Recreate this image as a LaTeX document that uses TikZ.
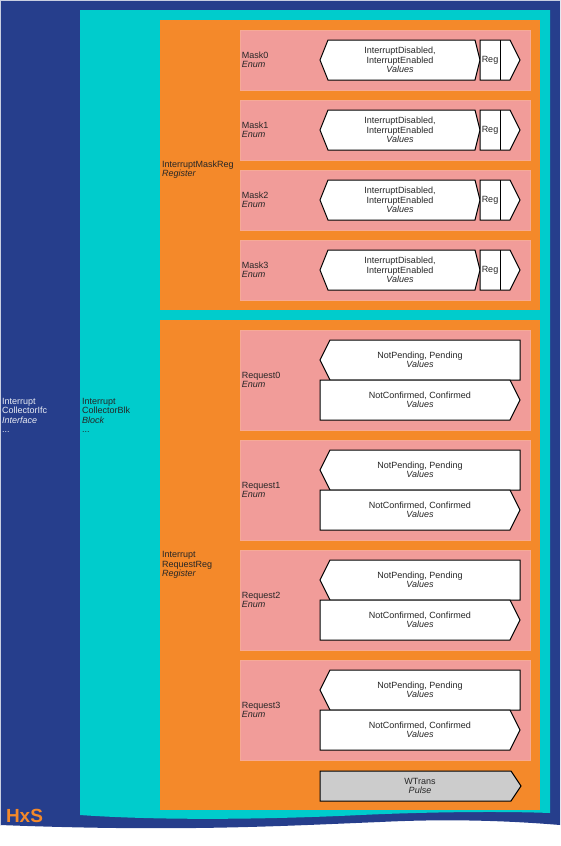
\documentclass[tikz,border=0pt]{standalone}
\usepackage{fontspec}
\setmainfont{Liberation Sans}
\usetikzlibrary{positioning}

\definecolor{ifcblue}{RGB}{38,62,140}
\definecolor{blkcyan}{RGB}{0,204,204}
\definecolor{regorange}{RGB}{244,137,42}
\definecolor{fieldpink}{RGB}{241,156,153}
\definecolor{pinkedge}{RGB}{246,170,150}
\definecolor{pulsegray}{RGB}{204,204,204}

\tikzset{
    regbox/.style={fill=regorange, minimum width=380pt, inner sep=0pt},
    rowbox/.style={fill=fieldpink, draw=pinkedge, line width=0.8pt, minimum width=290pt, inner sep=0pt},
    lbl/.style={font=\fontsize{9}{9.3}\selectfont, text=black!85, align=left, inner sep=0pt},
    txt/.style={font=\fontsize{9}{9.3}\selectfont, text=black!85, align=center, inner sep=0pt},
    valbox/.style={draw=black, fill=white, line width=1pt},
}

\begin{document}
\begin{tikzpicture}[x=1pt, y=-1pt]
    \useasboundingbox (0,0) rectangle (561,846);

    % Interface and block
    \fill[ifcblue] (0,0) -- (560,0) -- (560,825) .. controls (500,820) and (440,819) .. (380,822)
        .. controls (280,826) and (180,832) .. (0,825) -- cycle;
    \draw[white!75!ifcblue, line width=0.6pt] (0.3,825) -- (0.3,0.3) -- (560,0.3);
    \fill[blkcyan] (80,10) -- (550,10) -- (550,813) .. controls (500,811) and (420,812) .. (350,815.5)
        .. controls (250,820) and (150,820) .. (80,815) -- cycle;

    \node[lbl, anchor=west, text=white!90!ifcblue] (ifc) at (2,415.5) {Interrupt\\CollectorIfc\\\textit{Interface}\\...};
    \node[lbl, anchor=west] (blk) at (82,415.5) {Interrupt\\CollectorBlk\\\textit{Block}\\...};
    \node[anchor=center, inner sep=0pt, text=regorange, font=\fontsize{19}{19}\selectfont\bfseries] (hxs) at (24.5,815.5) {HxS};

    % Registers
    \node[regbox, minimum height=290pt] (maskreg) at (350,165) {};
    \node[regbox, minimum height=490pt] (reqreg) at (350,565) {};
    \node[lbl, anchor=west] (maskreglbl) at (162,169.5) {InterruptMaskReg\\\textit{Register}};
    \node[lbl, anchor=west] (reqreglbl) at (162,565) {Interrupt\\RequestReg\\\textit{Register}};

    % Mask fields
    \node[rowbox, minimum height=60pt] (mask0) at (385,60) {};
    \node[rowbox, minimum height=60pt] (mask1) at (385,130) {};
    \node[rowbox, minimum height=60pt] (mask2) at (385,200) {};
    \node[rowbox, minimum height=60pt] (mask3) at (385,270) {};
    \node[lbl, anchor=west, right=2pt of mask0.west] (mask0lbl) {Mask0\\\textit{Enum}};
    \node[lbl, anchor=west, right=2pt of mask1.west] (mask1lbl) {Mask1\\\textit{Enum}};
    \node[lbl, anchor=west, right=2pt of mask2.west] (mask2lbl) {Mask2\\\textit{Enum}};
    \node[lbl, anchor=west, right=2pt of mask3.west] (mask3lbl) {Mask3\\\textit{Enum}};

    \filldraw[valbox] (320,60) -- (328,40) -- (475,40) -- (480,60) -- (475,80) -- (328,80) -- cycle;
    \filldraw[valbox] (480,40) -- (510,40) -- (520,60) -- (510,80) -- (480,80) -- cycle;
    \draw[valbox] (500,40) -- (500,80);
    \filldraw[valbox] (320,130) -- (328,110) -- (475,110) -- (480,130) -- (475,150) -- (328,150) -- cycle;
    \filldraw[valbox] (480,110) -- (510,110) -- (520,130) -- (510,150) -- (480,150) -- cycle;
    \draw[valbox] (500,110) -- (500,150);
    \filldraw[valbox] (320,200) -- (328,180) -- (475,180) -- (480,200) -- (475,220) -- (328,220) -- cycle;
    \filldraw[valbox] (480,180) -- (510,180) -- (520,200) -- (510,220) -- (480,220) -- cycle;
    \draw[valbox] (500,180) -- (500,220);
    \filldraw[valbox] (320,270) -- (328,250) -- (475,250) -- (480,270) -- (475,290) -- (328,290) -- cycle;
    \filldraw[valbox] (480,250) -- (510,250) -- (520,270) -- (510,290) -- (480,290) -- cycle;
    \draw[valbox] (500,250) -- (500,290);

    \node[txt] (mask0val) at (400,60) {InterruptDisabled,\\InterruptEnabled\\\textit{Values}};
    \node[txt] (mask1val) at (400,130) {InterruptDisabled,\\InterruptEnabled\\\textit{Values}};
    \node[txt] (mask2val) at (400,200) {InterruptDisabled,\\InterruptEnabled\\\textit{Values}};
    \node[txt] (mask3val) at (400,270) {InterruptDisabled,\\InterruptEnabled\\\textit{Values}};
    \node[txt] (mask0reg) at (490,60) {Reg};
    \node[txt] (mask1reg) at (490,130) {Reg};
    \node[txt] (mask2reg) at (490,200) {Reg};
    \node[txt] (mask3reg) at (490,270) {Reg};

    % Request fields
    \node[rowbox, minimum height=100pt] (req0) at (385,380) {};
    \node[rowbox, minimum height=100pt] (req1) at (385,490) {};
    \node[rowbox, minimum height=100pt] (req2) at (385,600) {};
    \node[rowbox, minimum height=100pt] (req3) at (385,710) {};
    \node[lbl, anchor=west, right=2pt of req0.west] (req0lbl) {Request0\\\textit{Enum}};
    \node[lbl, anchor=west, right=2pt of req1.west] (req1lbl) {Request1\\\textit{Enum}};
    \node[lbl, anchor=west, right=2pt of req2.west] (req2lbl) {Request2\\\textit{Enum}};
    \node[lbl, anchor=west, right=2pt of req3.west] (req3lbl) {Request3\\\textit{Enum}};

    \filldraw[valbox] (320,360) -- (330,340) -- (520,340) -- (520,380) -- (330,380) -- cycle;
    \filldraw[valbox] (320,380) -- (510,380) -- (520,400) -- (510,420) -- (320,420) -- cycle;
    \filldraw[valbox] (320,470) -- (330,450) -- (520,450) -- (520,490) -- (330,490) -- cycle;
    \filldraw[valbox] (320,490) -- (510,490) -- (520,510) -- (510,530) -- (320,530) -- cycle;
    \filldraw[valbox] (320,580) -- (330,560) -- (520,560) -- (520,600) -- (330,600) -- cycle;
    \filldraw[valbox] (320,600) -- (510,600) -- (520,620) -- (510,640) -- (320,640) -- cycle;
    \filldraw[valbox] (320,690) -- (330,670) -- (520,670) -- (520,710) -- (330,710) -- cycle;
    \filldraw[valbox] (320,710) -- (510,710) -- (520,730) -- (510,750) -- (320,750) -- cycle;

    \node[txt] (req0pend) at (420,360) {NotPending, Pending\\\textit{Values}};
    \node[txt] (req0conf) at (420,400) {NotConfirmed, Confirmed\\\textit{Values}};
    \node[txt] (req1pend) at (420,470) {NotPending, Pending\\\textit{Values}};
    \node[txt] (req1conf) at (420,510) {NotConfirmed, Confirmed\\\textit{Values}};
    \node[txt] (req2pend) at (420,580) {NotPending, Pending\\\textit{Values}};
    \node[txt] (req2conf) at (420,620) {NotConfirmed, Confirmed\\\textit{Values}};
    \node[txt] (req3pend) at (420,690) {NotPending, Pending\\\textit{Values}};
    \node[txt] (req3conf) at (420,730) {NotConfirmed, Confirmed\\\textit{Values}};

    % Pulse
    \filldraw[valbox, fill=pulsegray] (320,771) -- (511,771) -- (521,786) -- (511,801) -- (320,801) -- cycle;
    \node[txt] (wtrans) at (420,786) {WTrans\\\textit{Pulse}};
\end{tikzpicture}
\end{document}
